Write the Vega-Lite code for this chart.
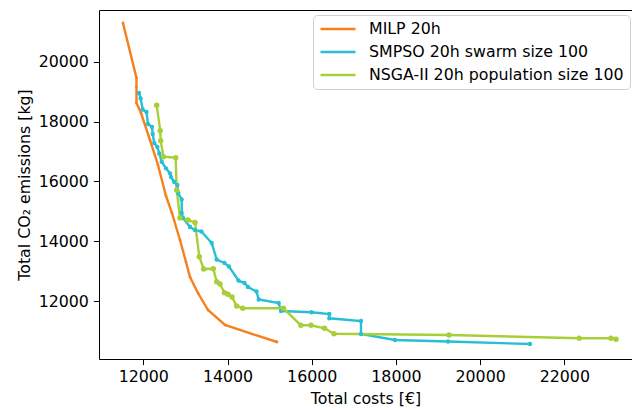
{
  "$schema": "https://vega.github.io/schema/vega-lite/v6.json",
  "autosize": "none",
  "padding": {"left": 99, "top": 10, "right": 0, "bottom": 51},
  "width": 533,
  "height": 349,
  "data": {"values": [
    {"s":"MILP 20h","i":0,"cost":11517,"co2":21305},
    {"s":"MILP 20h","i":1,"cost":11838,"co2":19464},
    {"s":"MILP 20h","i":2,"cost":11838,"co2":19163},
    {"s":"MILP 20h","i":3,"cost":11838,"co2":18627},
    {"s":"MILP 20h","i":4,"cost":11946,"co2":18292},
    {"s":"MILP 20h","i":5,"cost":12159,"co2":17389},
    {"s":"MILP 20h","i":6,"cost":12349,"co2":16552},
    {"s":"MILP 20h","i":7,"cost":12539,"co2":15514},
    {"s":"MILP 20h","i":8,"cost":12681,"co2":14945},
    {"s":"MILP 20h","i":9,"cost":12872,"co2":14042},
    {"s":"MILP 20h","i":10,"cost":13014,"co2":13305},
    {"s":"MILP 20h","i":11,"cost":13109,"co2":12803},
    {"s":"MILP 20h","i":12,"cost":13299,"co2":12268},
    {"s":"MILP 20h","i":13,"cost":13537,"co2":11699},
    {"s":"MILP 20h","i":14,"cost":13940,"co2":11197},
    {"s":"MILP 20h","i":15,"cost":15175,"co2":10628},
    {"s":"SMPSO 20h swarm size 100","i":0,"cost":11898,"co2":18962},
    {"s":"SMPSO 20h swarm size 100","i":1,"cost":11938,"co2":18778},
    {"s":"SMPSO 20h swarm size 100","i":2,"cost":11986,"co2":18410},
    {"s":"SMPSO 20h swarm size 100","i":3,"cost":12076,"co2":18326},
    {"s":"SMPSO 20h swarm size 100","i":4,"cost":12112,"co2":17924},
    {"s":"SMPSO 20h swarm size 100","i":5,"cost":12207,"co2":17824},
    {"s":"SMPSO 20h swarm size 100","i":6,"cost":12223,"co2":17589},
    {"s":"SMPSO 20h swarm size 100","i":7,"cost":12261,"co2":17288},
    {"s":"SMPSO 20h swarm size 100","i":8,"cost":12333,"co2":17154},
    {"s":"SMPSO 20h swarm size 100","i":9,"cost":12380,"co2":16937},
    {"s":"SMPSO 20h swarm size 100","i":10,"cost":12437,"co2":16662},
    {"s":"SMPSO 20h swarm size 100","i":11,"cost":12539,"co2":16441},
    {"s":"SMPSO 20h swarm size 100","i":12,"cost":12634,"co2":16274},
    {"s":"SMPSO 20h swarm size 100","i":13,"cost":12658,"co2":16150},
    {"s":"SMPSO 20h swarm size 100","i":14,"cost":12729,"co2":15993},
    {"s":"SMPSO 20h swarm size 100","i":15,"cost":12808,"co2":15883},
    {"s":"SMPSO 20h swarm size 100","i":16,"cost":12831,"co2":15605},
    {"s":"SMPSO 20h swarm size 100","i":17,"cost":12912,"co2":15397},
    {"s":"SMPSO 20h swarm size 100","i":18,"cost":12912,"co2":14945},
    {"s":"SMPSO 20h swarm size 100","i":19,"cost":12943,"co2":14778},
    {"s":"SMPSO 20h swarm size 100","i":20,"cost":13109,"co2":14477},
    {"s":"SMPSO 20h swarm size 100","i":21,"cost":13228,"co2":14376},
    {"s":"SMPSO 20h swarm size 100","i":22,"cost":13382,"co2":14326},
    {"s":"SMPSO 20h swarm size 100","i":23,"cost":13625,"co2":13941},
    {"s":"SMPSO 20h swarm size 100","i":24,"cost":13743,"co2":13389},
    {"s":"SMPSO 20h swarm size 100","i":25,"cost":13929,"co2":13272},
    {"s":"SMPSO 20h swarm size 100","i":26,"cost":14035,"co2":13155},
    {"s":"SMPSO 20h swarm size 100","i":27,"cost":14261,"co2":12686},
    {"s":"SMPSO 20h swarm size 100","i":28,"cost":14404,"co2":12602},
    {"s":"SMPSO 20h swarm size 100","i":29,"cost":14487,"co2":12469},
    {"s":"SMPSO 20h swarm size 100","i":30,"cost":14689,"co2":12318},
    {"s":"SMPSO 20h swarm size 100","i":31,"cost":14741,"co2":12050},
    {"s":"SMPSO 20h swarm size 100","i":32,"cost":15216,"co2":11933},
    {"s":"SMPSO 20h swarm size 100","i":33,"cost":15270,"co2":11665},
    {"s":"SMPSO 20h swarm size 100","i":34,"cost":15995,"co2":11622},
    {"s":"SMPSO 20h swarm size 100","i":35,"cost":16418,"co2":11565},
    {"s":"SMPSO 20h swarm size 100","i":36,"cost":16418,"co2":11421},
    {"s":"SMPSO 20h swarm size 100","i":37,"cost":17170,"co2":11331},
    {"s":"SMPSO 20h swarm size 100","i":38,"cost":17170,"co2":10896},
    {"s":"SMPSO 20h swarm size 100","i":39,"cost":17978,"co2":10695},
    {"s":"SMPSO 20h swarm size 100","i":40,"cost":19237,"co2":10644},
    {"s":"SMPSO 20h swarm size 100","i":41,"cost":21184,"co2":10561},
    {"s":"NSGA-II 20h population size 100","i":0,"cost":12318,"co2":18550},
    {"s":"NSGA-II 20h population size 100","i":1,"cost":12402,"co2":17700},
    {"s":"NSGA-II 20h population size 100","i":2,"cost":12413,"co2":17362},
    {"s":"NSGA-II 20h population size 100","i":3,"cost":12479,"co2":16830},
    {"s":"NSGA-II 20h population size 100","i":4,"cost":12769,"co2":16796},
    {"s":"NSGA-II 20h population size 100","i":5,"cost":12793,"co2":15715},
    {"s":"NSGA-II 20h population size 100","i":6,"cost":12872,"co2":14778},
    {"s":"NSGA-II 20h population size 100","i":7,"cost":13062,"co2":14711},
    {"s":"NSGA-II 20h population size 100","i":8,"cost":13228,"co2":14627},
    {"s":"NSGA-II 20h population size 100","i":9,"cost":13330,"co2":13483},
    {"s":"NSGA-II 20h population size 100","i":10,"cost":13434,"co2":13071},
    {"s":"NSGA-II 20h population size 100","i":11,"cost":13663,"co2":13081},
    {"s":"NSGA-II 20h population size 100","i":12,"cost":13744,"co2":12646},
    {"s":"NSGA-II 20h population size 100","i":13,"cost":13822,"co2":12569},
    {"s":"NSGA-II 20h population size 100","i":14,"cost":13929,"co2":12278},
    {"s":"NSGA-II 20h population size 100","i":15,"cost":14011,"co2":12224},
    {"s":"NSGA-II 20h population size 100","i":16,"cost":14107,"co2":12134},
    {"s":"NSGA-II 20h population size 100","i":17,"cost":14218,"co2":11833},
    {"s":"NSGA-II 20h population size 100","i":18,"cost":14361,"co2":11757},
    {"s":"NSGA-II 20h population size 100","i":19,"cost":15329,"co2":11757},
    {"s":"NSGA-II 20h population size 100","i":20,"cost":15741,"co2":11188},
    {"s":"NSGA-II 20h population size 100","i":21,"cost":15983,"co2":11188},
    {"s":"NSGA-II 20h population size 100","i":22,"cost":16304,"co2":11086},
    {"s":"NSGA-II 20h population size 100","i":23,"cost":16529,"co2":10906},
    {"s":"NSGA-II 20h population size 100","i":24,"cost":19260,"co2":10862},
    {"s":"NSGA-II 20h population size 100","i":25,"cost":22355,"co2":10752},
    {"s":"NSGA-II 20h population size 100","i":26,"cost":23108,"co2":10752},
    {"s":"NSGA-II 20h population size 100","i":27,"cost":23227,"co2":10718}
  ]},
  "layer": [
    {
      "mark": {"type": "line", "strokeWidth": 2.4, "clip": true},
      "encoding": {
        "x": {"field": "cost", "type": "quantitative",
              "scale": {"domain": [10948, 23607], "nice": false, "zero": false},
              "axis": {"orient": "bottom", "values": [12000, 14000, 16000, 18000, 20000, 22000], "format": "d", "title": "Total costs [€]", "titlePadding": 7}},
        "y": {"field": "co2", "type": "quantitative",
              "scale": {"domain": [10059, 21740], "nice": false, "zero": false},
              "axis": {"orient": "left", "values": [12000, 14000, 16000, 18000, 20000], "format": "d", "title": "Total CO₂ emissions [kg]", "titlePadding": 6}},
        "color": {"field": "s", "type": "nominal",
                  "scale": {"domain": ["MILP 20h", "SMPSO 20h swarm size 100", "NSGA-II 20h population size 100"],
                            "range": ["#f7801c", "#26bfd3", "#a8cf38"]},
                  "legend": {"title": null, "symbolType": "stroke"}},
        "order": {"field": "i", "type": "quantitative"}
      }
    },
    {
      "mark": {"type": "point", "filled": true, "opacity": 1, "clip": true},
      "encoding": {
        "x": {"field": "cost", "type": "quantitative",
              "axis": {"orient": "top", "labels": false, "ticks": false, "title": null}},
        "y": {"field": "co2", "type": "quantitative"},
        "color": {"field": "s", "type": "nominal", "legend": null},
        "size": {"field": "s", "type": "nominal",
                 "scale": {"domain": ["MILP 20h", "SMPSO 20h swarm size 100", "NSGA-II 20h population size 100"], "range": [8, 30, 30]},
                 "legend": null}
      }
    }
  ],
  "resolve": {"axis": {"x": "independent"}, "legend": {"color": "independent"}},
  "config": {
    "view": {"stroke": null},
    "font": "DejaVu Sans",
    "axis": {
      "grid": false, "domainColor": "black", "domainWidth": 1, "tickColor": "black", "tickWidth": 1,
      "tickSize": 5.6, "labelPadding": 5, "labelColor": "black", "titleColor": "black",
      "labelFontSize": 15.8, "titleFontSize": 15.8, "titleFontWeight": "normal", "labelFont": "DejaVu Sans", "titleFont": "DejaVu Sans"
    },
    "legend": {
      "orient": "none", "legendX": 214, "legendY": 5,
      "symbolType": "stroke", "symbolSize": 1225, "symbolStrokeWidth": 2.4, "clipHeight": 16,
      "rowPadding": 7, "labelOffset": 12, "padding": 6,
      "labelFontSize": 15.8, "labelFont": "DejaVu Sans", "labelColor": "black", "labelLimit": 400,
      "strokeColor": "#d0d0d0", "fillColor": "white", "cornerRadius": 4
    }
  }
}
